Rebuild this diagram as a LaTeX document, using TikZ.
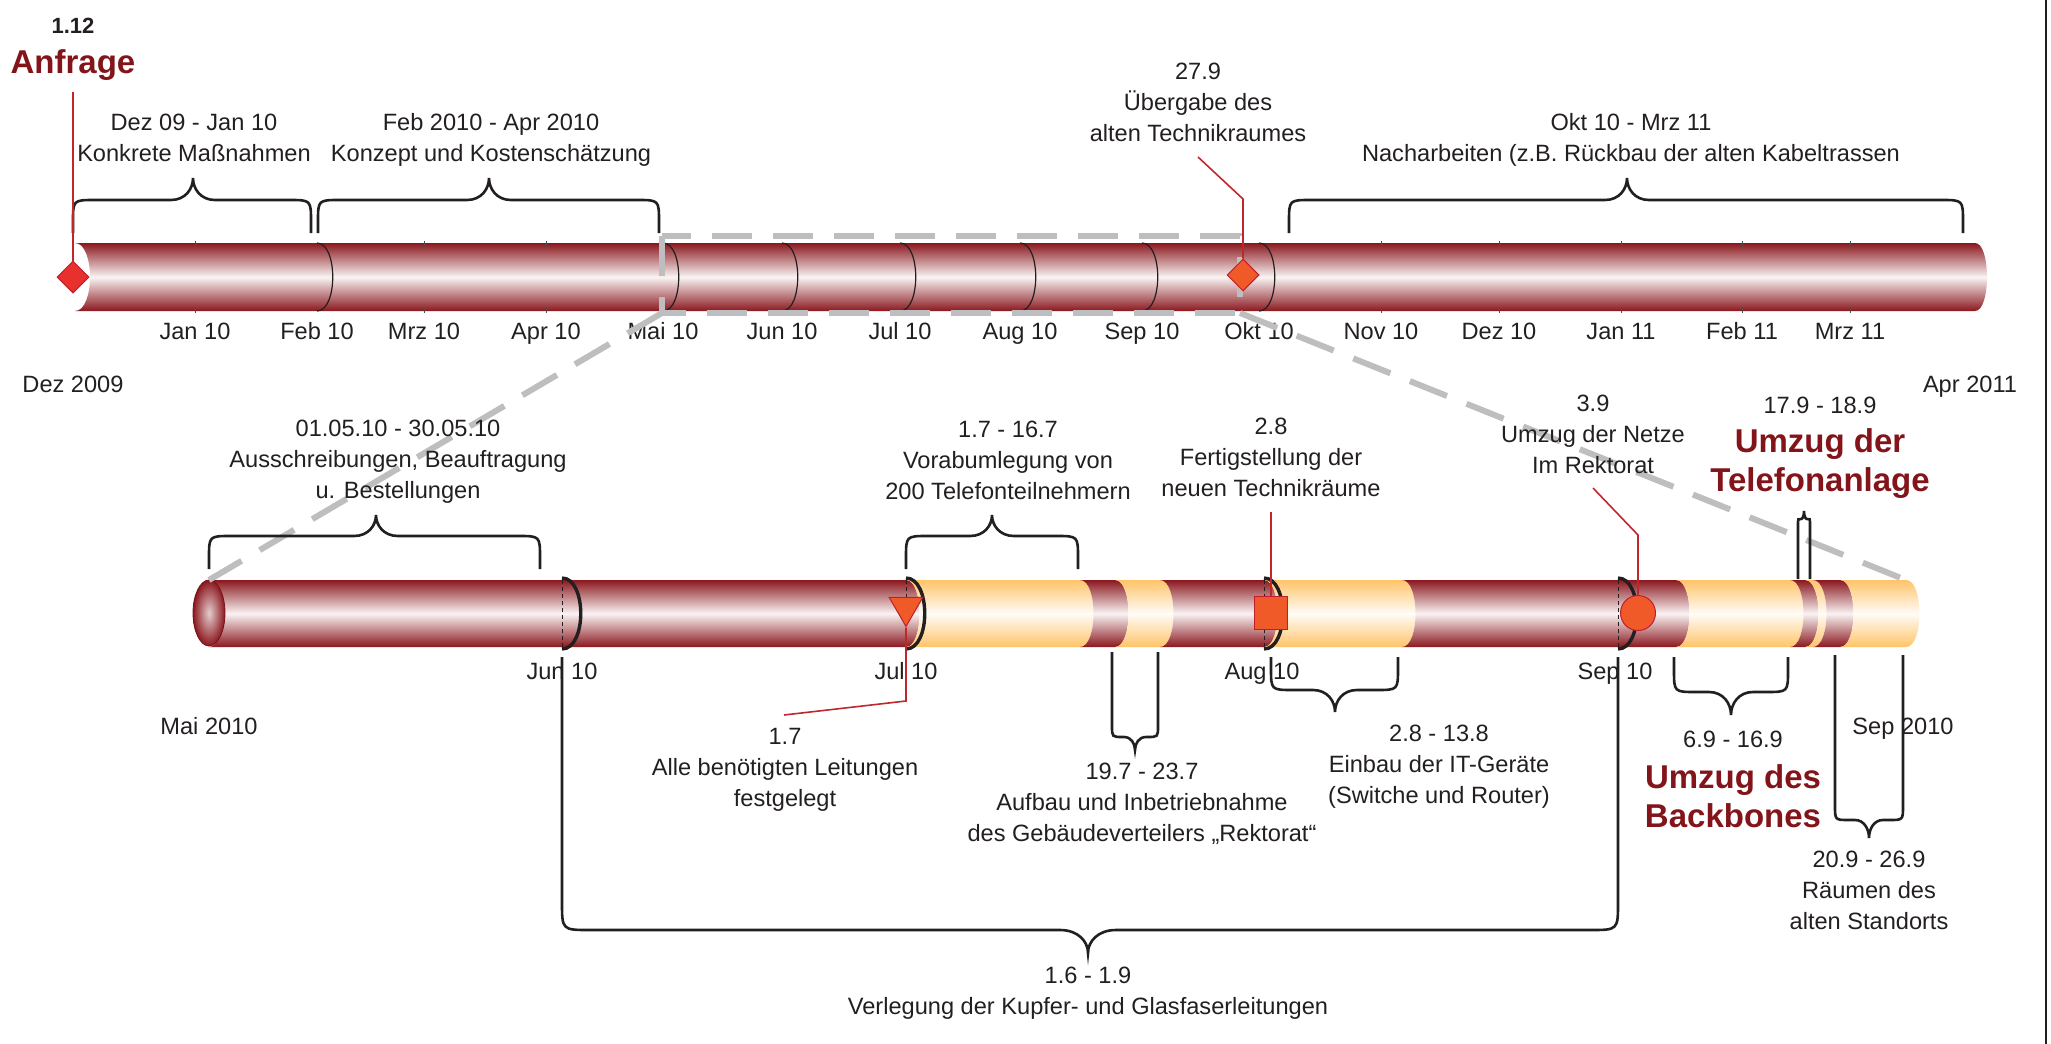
\documentclass[tikz,border=0pt]{standalone}
\usepackage{fontspec}
\setmainfont{Liberation Sans}
\usetikzlibrary{shapes.geometric}
\definecolor{tubered}{RGB}{138,24,30}
\definecolor{tubeorange}{RGB}{255,196,105}
\definecolor{markfill}{RGB}{240,90,40}
\definecolor{markline}{RGB}{190,30,45}
\definecolor{anfred}{RGB}{232,48,45}
\definecolor{leadred}{RGB}{192,39,45}
\definecolor{headred}{RGB}{130,20,26}
\definecolor{txt}{RGB}{35,31,32}
\definecolor{zoomgray}{RGB}{190,190,192}
% #1 left x, #2 right x, #3 tip x, #4 leg end y, #5 line y, #6 tip y, #7 corner
\newcommand{\tlbrace}[7]{%
  \draw[brace line] (#1,#4) -- (#1,{#5+sign(#4-#5)*#7})
    .. controls (#1,#5) .. (#1+#7,#5) -- (#3-#7,#5)
    .. controls (#3-0.35*#7,#5) and (#3,{0.5*(#5+#6)}) .. (#3,#6)
    .. controls (#3,{0.5*(#5+#6)}) and (#3+0.35*#7,#5) .. (#3+#7,#5)
    -- (#2-#7,#5) .. controls (#2,#5) .. (#2,{#5+sign(#4-#5)*#7}) -- (#2,#4);}
\begin{document}
\begin{tikzpicture}[x=0.5pt, y=-0.5pt,
    lbl/.style={font=\fontsize{11.8}{15.5}\selectfont, text=txt, align=center, inner sep=0pt},
    month/.style={lbl, anchor=base},
    head/.style={font=\fontsize{16.5}{19.5}\selectfont\bfseries, text=headred, align=center, inner sep=0pt},
    tube/.style={top color=#1, bottom color=#1, middle color=#1!5!white},
    seam/.style={draw=txt, line width=0.6pt},
    frontseam/.style={draw=txt, line width=1.7pt},
    backseam/.style={draw=txt, line width=0.5pt, dash pattern=on 2pt off 1.5pt},
    tick/.style={draw=txt!80, line width=0.5pt},
    brace line/.style={draw=txt, line width=1.3pt},
    zoomline/.style={draw=zoomgray, line width=3pt, dash pattern=on 20pt off 10.5pt},
    leader/.style={draw=leadred, line width=0.8pt},
    marker/.style={draw=markline, fill=markfill, line width=0.5pt, inner sep=0pt}]
    \useasboundingbox (0,0) rectangle (2051,1044);
    % Right border
    \coordinate (rbt) at (2046,0);
    \coordinate (rbb) at (2046,1044);
    \draw[draw=txt, line width=1pt] (rbt) -- (rbb);

    % Upper tube: Dez 2009 - Apr 2011
    \path[tube=tubered] (75,243) -- (1975,243) .. controls (1991,243) and (1991,311) .. (1975,311)
        -- (75,311) .. controls (95,311) and (95,243) .. (75,243) -- cycle;
    \foreach \x in {317,663,782,900,1020,1142,1259}
        \draw[seam] (\x,243) .. controls (\x+21,243) and (\x+21,311) .. (\x,311);
    \foreach \x in {195,424,546,1381,1499,1621,1742,1850}
        \draw[tick] (\x,241) -- (\x,247) (\x,307) -- (\x,313);
    \foreach \x/\m [count=\i] in {195/Jan 10, 317/Feb 10, 424/Mrz 10, 546/Apr 10, 663/Mai 10,
        782/Jun 10, 900/Jul 10, 1020/Aug 10, 1142/Sep 10, 1259/Okt 10, 1381/Nov 10,
        1499/Dez 10, 1621/Jan 11, 1742/Feb 11, 1850/Mrz 11}
        \node[month] (tm\i) at (\x,339) {\m};

    % Lower tube: Mai 2010 - Sep 2010
    \foreach \xa/\xb/\c in {209/906/tubered, 906/1080/tubeorange, 1080/1115/tubered,
        1115/1160/tubeorange, 1160/1264/tubered, 1264/1402/tubeorange, 1402/1676/tubered,
        1676/1790/tubeorange, 1790/1805/tubered, 1805/1813/tubeorange, 1813/1840/tubered,
        1840/1906/tubeorange}
        \path[tube=\c] (\xa,580) -- (\xb,580) .. controls (\xb+18,580) and (\xb+18,647) .. (\xb,647)
            -- (\xa,647) .. controls (\xa+18,647) and (\xa+18,580) .. (\xa,580) -- cycle;
    \path[draw=tubered!85!black, line width=0.4pt, inner color=tubered!22!white, outer color=tubered]
        (209,613) ellipse [x radius=8pt, y radius=16.5pt];
    \foreach \x in {562,906,1264,1618} {
        \draw[backseam] (\x,580) -- (\x,647);
        \draw[frontseam] (\x,578) .. controls (\x+25,578) and (\x+25,649) .. (\x,649);
    }
    \foreach \x/\m [count=\i] in {562/Jun 10, 906/Jul 10, 1262/Aug 10, 1615/Sep 10}
        \node[month] (bm\i) at (\x,679) {\m};

    % Zoom frame
    \coordinate (ztl) at (662,236);
    \coordinate (zbl) at (662,313);
    \coordinate (zbr) at (1240,313);
    \coordinate (capt) at (209,580);
    \coordinate (endt) at (1906,580);
    \draw[zoomline] (ztl) rectangle (zbr);
    \draw[zoomline] (zbl) -- (capt);
    \draw[zoomline] (zbr) -- (endt);

    % Braces
    \tlbrace{73}{311}{193}{233}{200}{178}{22}
    \tlbrace{318}{659}{489}{233}{200}{178}{22}
    \tlbrace{1289}{1963}{1627}{233}{200}{178}{22}
    \tlbrace{209}{540}{376}{569}{536}{515}{22}
    \tlbrace{906}{1078}{992}{569}{536}{515}{22}
    \tlbrace{1798}{1810}{1804}{579}{519}{511}{3}
    \tlbrace{1112}{1158}{1135}{652}{737}{750}{11}
    \tlbrace{1271}{1398}{1335}{657}{690}{712}{22}
    \tlbrace{1674}{1788}{1731}{657}{692}{715}{22}
    \tlbrace{1835}{1903}{1869}{655}{820}{838}{14}
    \tlbrace{562}{1618}{1088}{657}{930}{953}{28}

    % Milestones
    \node[marker, diamond, fill=anfred, minimum width=16pt, minimum height=16pt] (danf) at (73,277) {};
    \node[marker, diamond, minimum width=16pt, minimum height=16pt] (dokt) at (1243,275) {};
    \node[marker, regular polygon, regular polygon sides=3, shape border rotate=180,
        minimum size=19.5pt] (tri17) at (906,607) {};
    \node[marker, rectangle, minimum size=16.5pt] (sq28) at (1271,613) {};
    \node[marker, circle, minimum size=17.5pt] (c39) at (1638,613) {};
    \coordinate (eanf) at (73,92);
    \coordinate (b279) at (1243,199);
    \coordinate (e279) at (1198,157);
    \coordinate (e28) at (1271,512);
    \coordinate (b39) at (1638,535);
    \coordinate (e39) at (1593,488);
    \coordinate (b17) at (906,701);
    \coordinate (e17) at (784,715);
    \draw[leader] (danf) -- (eanf);
    \draw[leader] (dokt) -- (b279) -- (e279);
    \draw[leader] (sq28) -- (e28);
    \draw[leader] (c39) -- (b39) -- (e39);
    \draw[leader] (tri17) -- (b17) -- (e17);

    % Labels
    \node[month, font=\fontsize{11}{13}\selectfont\bfseries] (d112) at (73,33) {1.12};
    \node[head, anchor=base] (lanf) at (73,73) {Anfrage};
    \node[lbl] (tb1) at (194,138) {Dez 09 - Jan 10\\Konkrete Maßnahmen};
    \node[lbl] (tb2) at (491,140) {Feb 2010 - Apr 2010\\Konzept und Kostenschätzung};
    \node[lbl] (tb3) at (1631,140) {Okt 10 - Mrz 11\\Nacharbeiten (z.B. Rückbau der alten Kabeltrassen};
    \node[lbl] (t279) at (1198,102) {27.9\\Übergabe des\\alten Technikraumes};
    \node[month] (ldez) at (73,392) {Dez 2009};
    \node[month] (lapr) at (1970,392) {Apr 2011};
    \node[month] (lmai) at (209,734) {Mai 2010};
    \node[month] (lsep) at (1903,734) {Sep 2010};
    \node[lbl] (t0105) at (398,462) {01.05.10 - 30.05.10\\Ausschreibungen, Beauftragung\\u. Bestellungen};
    \node[lbl] (t17167) at (1008,460) {1.7 - 16.7\\Vorabumlegung von\\200 Telefonteilnehmern};
    \node[lbl] (t28) at (1271,457) {2.8\\Fertigstellung der\\neuen Technikräume};
    \node[lbl] (t39) at (1593,434) {3.9\\Umzug der Netze\\Im Rektorat};
    \node[month] (t179) at (1820,413) {17.9 - 18.9};
    \node[head] (h179) at (1820,464) {Umzug der\\Telefonanlage};
    \node[lbl] (t17) at (785,770) {1.7\\Alle benötigten Leitungen\\festgelegt};
    \node[lbl] (t197) at (1142,804) {19.7 - 23.7\\Aufbau und Inbetriebnahme\\des Gebäudeverteilers „Rektorat“};
    \node[lbl] (t28138) at (1439,767) {2.8 - 13.8\\Einbau der IT-Geräte\\(Switche und Router)};
    \node[month] (t69) at (1733,747) {6.9 - 16.9};
    \node[head] (h69) at (1733,796) {Umzug des\\Backbones};
    \node[lbl] (t209) at (1869,890) {20.9 - 26.9\\Räumen des\\alten Standorts};
    \node[lbl] (t169) at (1088,993) {1.6 - 1.9\\Verlegung der Kupfer- und Glasfaserleitungen};
\end{tikzpicture}
\end{document}
